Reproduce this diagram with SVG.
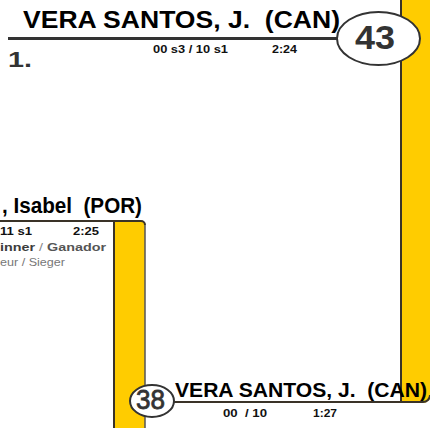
<svg xmlns="http://www.w3.org/2000/svg" width="430" height="428" viewBox="0 0 430 428">
<style>
text{white-space:pre}
.name{font-family:"Liberation Sans",Arial,sans-serif;font-weight:bold;fill:#000}
.info{font-family:"Liberation Sans",Arial,sans-serif;font-weight:bold;font-size:11px;fill:#111}
.num{font-family:"Liberation Sans",Arial,sans-serif;fill:#333}
.bar{fill:#FFCC00}
.edge{fill:none;stroke:#3a3328;stroke-width:2}
.edge2{fill:none;stroke:#555;stroke-width:1.5}
.oval{fill:#fff;stroke:#333;stroke-width:2}
.rule{stroke:#333;stroke-width:3;fill:none}
</style>
<rect width="430" height="428" fill="#fff"/>
<g id="bracket-right">
<path class="bar" d="M401,0 H430 V396 A7,7 0 0 1 423,403 H401 Z"/>
</g>
<g id="bracket-left">
<path class="bar" d="M114,221 H141 A4,4 0 0 1 145,225 V428 H114 Z"/>
</g>
<g id="connectors">
<path class="edge" d="M401,0 V402"/>
<path class="edge" d="M174,402 H423 A7,7 0 0 0 430,395"/>
<path class="edge" d="M0,221 H141 A4,4 0 0 1 145,225"/>
<path class="edge2" d="M145,225 V428"/>
<path class="edge" d="M114,221 V428"/>
<line class="rule" x1="8" y1="38.5" x2="337" y2="38.5"/>
</g>
<g id="match-43">
<text class="name" x="23" y="28" font-size="24" textLength="317" lengthAdjust="spacingAndGlyphs">VERA SANTOS, J.  (CAN)</text>
<text class="info" x="153" y="53" textLength="75" lengthAdjust="spacingAndGlyphs">00 s3 / 10 s1</text>
<text class="info" x="272" y="53" textLength="25" lengthAdjust="spacingAndGlyphs">2:24</text>
<text class="name" x="8" y="67" font-size="22" style="fill:#333" textLength="24" lengthAdjust="spacingAndGlyphs">1.</text>
<ellipse class="oval" cx="378.5" cy="38.5" rx="41.5" ry="26.5"/>
<text class="num" x="355" y="48.5" font-size="33" font-weight="bold" textLength="40" lengthAdjust="spacingAndGlyphs">43</text>
</g>
<g id="match-left">
<text class="name" x="2" y="213" font-size="22" textLength="140" lengthAdjust="spacingAndGlyphs">, Isabel  (POR)</text>
<text class="info" x="0" y="235" textLength="32" lengthAdjust="spacingAndGlyphs">11 s1</text>
<text class="info" x="73" y="235" textLength="26" lengthAdjust="spacingAndGlyphs">2:25</text>
<text class="info" x="0" y="251" textLength="106" lengthAdjust="spacingAndGlyphs"><tspan fill="#3c3c3c">inner</tspan><tspan fill="#888" font-weight="normal"> / </tspan><tspan fill="#555">Ganador</tspan></text>
<text class="info" x="0" y="266" style="font-weight:normal;fill:#777" textLength="65" lengthAdjust="spacingAndGlyphs">eur / Sieger</text>
</g>
<g id="match-38">
<ellipse class="oval" cx="152" cy="401" rx="22" ry="16"/>
<text class="num" x="136" y="409" font-size="28" stroke="#333" stroke-width="0.8" textLength="29" lengthAdjust="spacingAndGlyphs">38</text>
<text class="name" x="175" y="397" font-size="21" textLength="252" lengthAdjust="spacingAndGlyphs">VERA SANTOS, J.  (CAN)</text>
<text class="info" x="223" y="417" textLength="44" lengthAdjust="spacingAndGlyphs">00  / 10</text>
<text class="info" x="313" y="417" textLength="24" lengthAdjust="spacingAndGlyphs">1:27</text>
</g>
</svg>
